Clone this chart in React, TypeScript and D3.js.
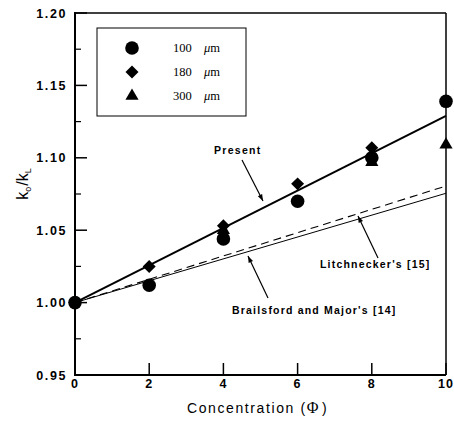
import React from "react";
import * as d3 from "d3";

// Concentration values (vol. %) and measured conductivity ratios
const phi100 = [0, 2, 4, 6, 8, 10];
const k100 = [1.0, 1.012, 1.044, 1.07, 1.1, 1.139];
const phi180 = [0, 2, 4, 6, 8];
const k180 = [1.0, 1.025, 1.053, 1.082, 1.107];
const phi300 = [4, 8, 10];
const k300 = [1.05, 1.097, 1.109];

// Model predictions
const modelPhi = [0, 10];
const presentK = [1.0, 1.129];
const litchK = [1.0, 1.0805];
const brailK = [1.0, 1.0755];

const xTicks = [0, 2, 4, 6, 8, 10];
const yTicks = [0.95, 1.0, 1.05, 1.1, 1.15, 1.2];
const yMinor = [0.975, 1.025, 1.075, 1.125, 1.175];

const legendItems = ["100", "180", "300"];

const W = 454;
const H = 421;

export default function App() {
  const x = d3.scaleLinear().domain([0, 10]).range([75, 446]);
  const y = d3.scaleLinear().domain([0.95, 1.2]).range([375, 13]);

  const line = d3
    .line<[number, number]>()
    .x((d) => x(d[0]))
    .y((d) => y(d[1]));

  const pts = (xs: number[], ys: number[]) =>
    xs.map((v, i) => [v, ys[i]] as [number, number]);

  const circleSym = d3.symbol(d3.symbolCircle, 145)();
  const diamondSym = d3.symbol(d3.symbolSquare, 84)();
  const triangleSym = d3.symbol(d3.symbolTriangle, 75)();

  const sans = "Arial, 'Liberation Sans', Helvetica, sans-serif";
  const serif = "'Times New Roman', 'Liberation Serif', serif";

  const arrow = (x1: number, y1: number, x2: number, y2: number) => {
    const a = Math.atan2(y2 - y1, x2 - x1);
    const L = 7;
    const w = 0.35;
    const p1 = [x2 - L * Math.cos(a - w), y2 - L * Math.sin(a - w)];
    const p2 = [x2 - L * Math.cos(a + w), y2 - L * Math.sin(a + w)];
    return (
      <g>
        <line x1={x1} y1={y1} x2={x2} y2={y2} stroke="#000" strokeWidth={1.2} />
        <path d={`M${x2},${y2}L${p1[0]},${p1[1]}L${p2[0]},${p2[1]}Z`} fill="#000" />
      </g>
    );
  };

  return (
    <svg
      width={W}
      height={H}
      style={{ position: "absolute", left: 0, top: 0, background: "#fff" }}
    >
      <rect width={W} height={H} fill="#fff" />

      {/* frame */}
      <line x1={75} y1={13} x2={446} y2={13} stroke="#000" strokeWidth={1.5} />
      <line x1={446} y1={13} x2={446} y2={375} stroke="#000" strokeWidth={1.5} />
      <line x1={75} y1={375} x2={446} y2={375} stroke="#000" strokeWidth={2} />
      <line x1={75} y1={12} x2={75} y2={376} stroke="#000" strokeWidth={2} />

      {/* y ticks */}
      {yTicks.map((t) => (
        <g key={"y" + t}>
          <line x1={75} x2={87} y1={y(t)} y2={y(t)} stroke="#000" strokeWidth={1.5} />
          <text
            x={67}
            y={y(t) + 4.5}
            textAnchor="end"
            fontFamily={sans}
            fontWeight="bold"
            fontSize={12.5}
            letterSpacing={1.6}
          >
            {t.toFixed(2)}
          </text>
        </g>
      ))}
      {yMinor.map((t) => (
        <line key={"ym" + t} x1={75} x2={81} y1={y(t)} y2={y(t)} stroke="#000" strokeWidth={1.2} />
      ))}

      {/* x ticks */}
      {xTicks.map((t) => (
        <g key={"x" + t}>
          <line x1={x(t)} x2={x(t)} y1={375} y2={363} stroke="#000" strokeWidth={1.5} />
          <text
            x={x(t)}
            y={388}
            textAnchor="middle"
            fontFamily={sans}
            fontWeight="bold"
            fontSize={12.5}
            letterSpacing={1}
          >
            {t}
          </text>
        </g>
      ))}

      {/* axis titles */}
      <text x={187} y={413} fontFamily={sans} fontSize={14} letterSpacing={1.6}>
        Concentration (
        <tspan fontFamily={serif} fontSize={16}>Φ</tspan>
        <tspan dx={2}>)</tspan>
      </text>
      <text
        transform="translate(28,184) rotate(-90)"
        textAnchor="middle"
        fontFamily={sans}
        fontSize={16}
      >
        k
        <tspan fontSize={9} dy={3}>o</tspan>
        <tspan dy={-3} dx={1}>/k</tspan>
        <tspan fontSize={9} dy={3}>L</tspan>
      </text>

      {/* model curves */}
      <path d={line(pts(modelPhi, brailK)) || ""} fill="none" stroke="#000" strokeWidth={1} />
      <path
        d={line(pts(modelPhi, litchK)) || ""}
        fill="none"
        stroke="#000"
        strokeWidth={1.1}
        strokeDasharray="8,5"
      />
      <path d={line(pts(modelPhi, presentK)) || ""} fill="none" stroke="#000" strokeWidth={2} />

      {/* measurements */}
      {pts(phi300, k300).map((p, i) => (
        <path key={"t" + i} d={triangleSym || ""} transform={`translate(${x(p[0])},${y(p[1])})`} fill="#000" />
      ))}
      {pts(phi100, k100).map((p, i) => (
        <path key={"c" + i} d={circleSym || ""} transform={`translate(${x(p[0])},${y(p[1])})`} fill="#000" />
      ))}
      {pts(phi180, k180).map((p, i) => (
        <path
          key={"d" + i}
          d={diamondSym || ""}
          transform={`translate(${x(p[0])},${y(p[1])}) rotate(45)`}
          fill="#000"
        />
      ))}

      {/* annotations */}
      <text x={214} y={154} fontFamily={sans} fontWeight="bold" fontSize={10.5} letterSpacing={1.3}>
        Present
      </text>
      {arrow(242, 160, 263, 201)}
      <text x={320} y={268} fontFamily={sans} fontWeight="bold" fontSize={10.5} letterSpacing={1.2}>
        Litchnecker's [15]
      </text>
      {arrow(378, 258, 358, 216)}
      <text x={232} y={314} fontFamily={sans} fontWeight="bold" fontSize={10.5} letterSpacing={1.2}>
        Brailsford and Major's [14]
      </text>
      {arrow(268, 298, 248, 256)}

      {/* legend */}
      <rect x={97} y={28} width={149} height={88} fill="#fff" stroke="#000" strokeWidth={1} />
      {legendItems.map((lab, i) => {
        const cy = 48 + i * 24;
        const sym = i === 0 ? circleSym : i === 1 ? diamondSym : triangleSym;
        return (
          <g key={"lg" + i}>
            <path
              d={sym || ""}
              transform={`translate(132,${cy})${i === 1 ? " rotate(45)" : ""}`}
              fill="#000"
            />
            <text x={173} y={cy + 4} fontFamily={serif} fontSize={12.5}>
              {lab}
            </text>
            <text x={204} y={cy + 4} fontFamily={serif} fontSize={12.5}>
              <tspan fontStyle="italic">μ</tspan>m
            </text>
          </g>
        );
      })}
    </svg>
  );
}
